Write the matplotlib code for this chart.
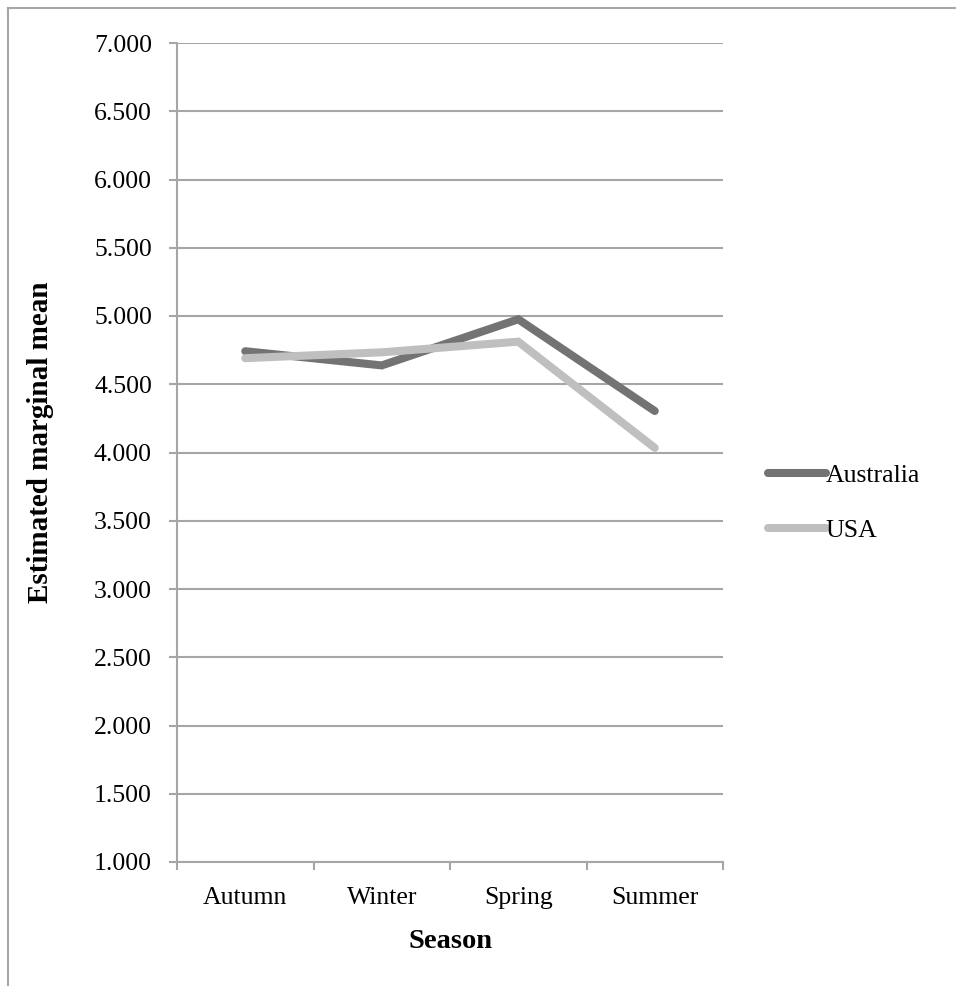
import matplotlib
matplotlib.use("Agg")
import matplotlib.pyplot as plt
from matplotlib.lines import Line2D

seasons = ["Autumn", "Winter", "Spring", "Summer"]
australia = [4.742, 4.638, 4.976, 4.304]
usa = [4.691, 4.734, 4.812, 4.034]
yticks = [1.0, 1.5, 2.0, 2.5, 3.0, 3.5, 4.0, 4.5, 5.0, 5.5, 6.0, 6.5, 7.0]

plt.rcParams['font.family'] = ['Liberation Serif', 'DejaVu Serif']

W, H = 956, 989
fig = plt.figure(figsize=(W/100, H/100), dpi=100)
ax = fig.add_axes([177/W, 1-862/H, (723-177)/W, (862-43)/H])

grid_c = '#a6a6a6'
FS = 18.5
LW = 5.8
x = [i + 0.5 for i in range(len(seasons))]
ax.plot(x, australia, color='#737373', lw=LW, solid_capstyle='round', solid_joinstyle='miter', zorder=3)
ax.plot(x, usa, color='#bfbfbf', lw=LW, solid_capstyle='round', solid_joinstyle='miter', zorder=4)

ax.set_xlim(0, 4)
ax.set_ylim(1.0, 7.0)
ax.set_yticks(yticks)
ax.set_yticklabels([f"{v:.3f}" for v in yticks], fontsize=FS)
ax.set_xticks([0, 1, 2, 3, 4])
ax.set_xticklabels([])
ax.set_xticks(x, minor=True)
ax.set_xticklabels(seasons, minor=True, fontsize=FS)
ax.tick_params(axis='x', which='minor', length=0, pad=18)
ax.tick_params(axis='x', which='major', length=5.5, width=1.5, color=grid_c, direction='out')
ax.tick_params(axis='y', length=6, width=1.5, color=grid_c, direction='out', pad=12)

for v in yticks:
    ax.axhline(v, color=grid_c, lw=1.5, zorder=1)
for s in ['top', 'right']:
    ax.spines[s].set_visible(False)
for s in ['left', 'bottom']:
    ax.spines[s].set_color(grid_c)
    ax.spines[s].set_linewidth(1.5)

ax.set_xlabel("Season", fontsize=20.5, fontweight='bold')
ax.set_ylabel("Estimated marginal mean", fontsize=21, fontweight='bold')
ax.xaxis.set_label_coords(0.5, -(929-862)/819)
ax.yaxis.set_label_coords((54-177)/546, (862-442)/819)

handles = [Line2D([0], [0], color='#737373', lw=LW, solid_capstyle='round'),
           Line2D([0], [0], color='#bfbfbf', lw=LW, solid_capstyle='round')]
fig.legend(handles, ["Australia", "USA"], loc='upper left',
           bbox_to_anchor=(768/W, 1-464/H), frameon=False, fontsize=FS,
           handlelength=2.25, handletextpad=0.0, labelspacing=1.25, borderaxespad=0,
           borderpad=0)

# partial border (top and left)
fig.add_artist(Line2D([8/W, 1], [1-8/H, 1-8/H], color='#a6a6a6', lw=1.5, transform=fig.transFigure))
fig.add_artist(Line2D([8/W, 8/W], [1-8/H, 1-985/H], color='#a6a6a6', lw=1.5, transform=fig.transFigure))

fig.savefig("out.png", dpi=100)
